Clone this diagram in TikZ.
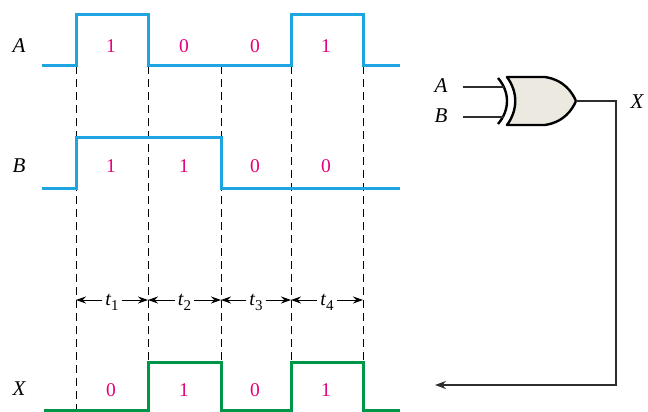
\documentclass[tikz,border=0pt]{standalone}
\usepackage{fontspec}
\setmainfont{Liberation Serif}
\usetikzlibrary{arrows.meta}
\definecolor{wblue}{RGB}{28,165,225}
\definecolor{wgreen}{RGB}{0,150,72}
\definecolor{num}{RGB}{228,0,125}
\definecolor{gatefill}{RGB}{236,233,224}
\definecolor{wire}{RGB}{45,45,45}
\newcommand{\tsub}[1]{{\itshape t}\raisebox{-5pt}{\fontsize{15}{15}\selectfont #1}}
\begin{document}
\begin{tikzpicture}[x=1pt,y=-1pt,
  sig/.style={line width=3pt},
  guide/.style={black,line width=0.8pt,dash pattern=on 8pt off 5pt},
  lbl/.style={font=\fontsize{21}{24}\selectfont\itshape,inner sep=0pt},
  bit/.style={font=\fontsize{19.5}{22}\selectfont,text=num,inner sep=0pt},
  tlab/.style={font=\fontsize{20}{22}\selectfont,inner sep=3pt},
  tarr/.style={black,line width=0.9pt,-{Stealth[length=10pt,width=7pt]}},
  wirest/.style={wire,line width=1.3pt}]
\useasboundingbox (0,0) rectangle (648,412);
% guide lines
\foreach \x/\e in {76/410,148/362,221/362,291/362,363/362}
  \draw[guide] (\x,66) -- (\x,\e);
% waveforms
\draw[sig,wblue] (42,66) -- (76,66) -- (76,15) -- (148,15) -- (148,66) -- (291,66) -- (291,15) -- (363,15) -- (363,66) -- (400,66);
\draw[sig,wblue] (42,188) -- (76,188) -- (76,137) -- (221,137) -- (221,188) -- (400,188);
\draw[sig,wgreen] (44,410) -- (148,410) -- (148,362) -- (221,362) -- (221,410) -- (291,410) -- (291,362) -- (363,362) -- (363,410) -- (400,410);
% labels
\node[lbl] (la) at (19,46) {A};
\node[lbl] (lb) at (19,166) {B};
\node[lbl] (lx) at (19,389) {X};
\foreach \x/\v [count=\i] in {111/1,184/0,255/0,326/1}
  \node[bit] (a\i) at (\x,46) {\v};
\foreach \x/\v [count=\i] in {111/1,184/1,255/0,326/0}
  \node[bit] (b\i) at (\x,166) {\v};
\foreach \x/\v [count=\i] in {111/0,184/1,255/0,326/1}
  \node[bit] (x\i) at (\x,390) {\v};
% time intervals
\foreach \l/\r [count=\i] in {76/148,148/221,221/291,291/363}{
  \coordinate (tl\i) at (\l,300);
  \coordinate (tr\i) at (\r,300);
  \node[tlab] (t\i) at ({(\l+\r)/2},302) {\tsub{\i}};
  \draw[tarr] (t\i.west |- tl\i) -- (tl\i);
  \draw[tarr] (t\i.east |- tr\i) -- (tr\i);
}
% gate
\draw[line width=2.4pt,fill=gatefill,line join=round]
  (507,77) coordinate (gtop) -- (545,77) .. controls (564,80) and (572,92) .. (576,101) coordinate (gout)
  .. controls (572,110) and (564,122) .. (545,125) -- (507,125)
  .. controls (518,110) and (518,92) .. (507,77) -- cycle;
\draw[line width=2.4pt] (498,78) .. controls (510,92) and (510,110) .. (498,124);
\coordinate (ina) at (504,87);
\coordinate (inb) at (504,117);
\coordinate (sa) at (463,87);
\coordinate (sb) at (463,117);
\coordinate (c1) at (616,101);
\coordinate (c2) at (616,385);
\coordinate (xend) at (435,385);
\draw[wirest] (sa) -- (ina);
\draw[wirest] (sb) -- (inb);
\draw[wirest,-{Stealth[length=11pt,width=8pt]}] (gout) -- (c1) -- (c2) -- (xend);
\node[lbl] (ga) at (441,86) {A};
\node[lbl] (gb) at (441,116) {B};
\node[lbl] (gx) at (637,102) {X};
\end{tikzpicture}
\end{document}
